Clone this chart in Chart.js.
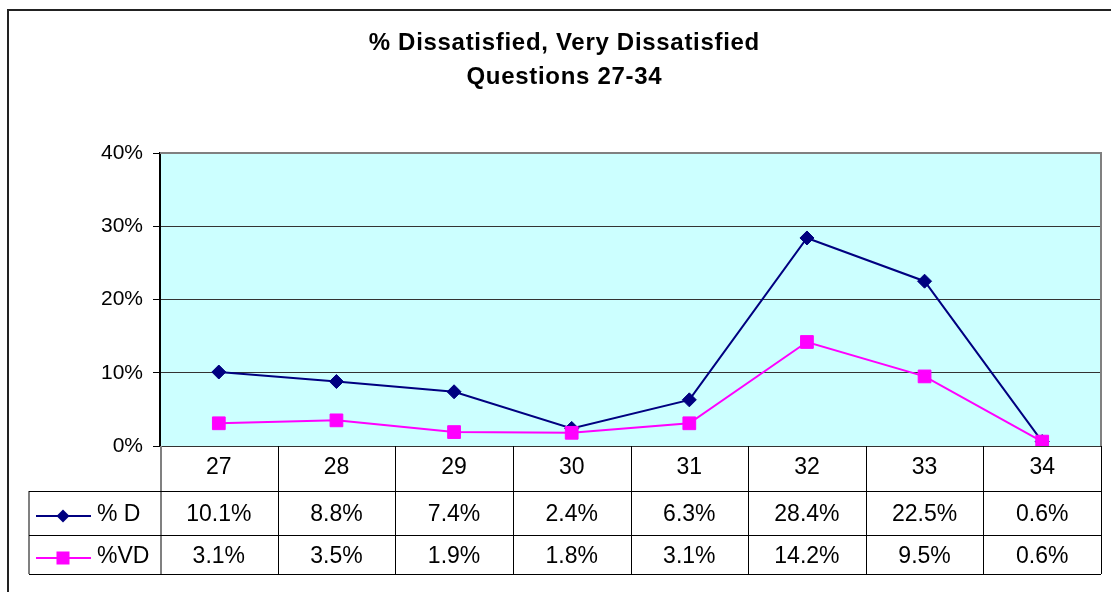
<!DOCTYPE html>
<html>
<head>
<meta charset="utf-8">
<title>% Dissatisfied, Very Dissatisfied</title>
<script src="https://cdn.jsdelivr.net/npm/chart.js@4.4.1/dist/chart.umd.min.js"></script>
<style>
  html, body { margin: 0; padding: 0; background: #fff; overflow: hidden; }
</style>
</head>
<body>
<canvas id="chart" width="1111" height="592"></canvas>
<script>
const titleLines = ['% Dissatisfied, Very Dissatisfied', 'Questions 27-34'];
const questions = ['27', '28', '29', '30', '31', '32', '33', '34'];
const seriesNames = ['% D', '%VD'];
const pctD = [10.1, 8.8, 7.4, 2.4, 6.3, 28.4, 22.5, 0.6];
const pctVD = [3.1, 3.5, 1.9, 1.8, 3.1, 14.2, 9.5, 0.6];
const yTicks = [0, 10, 20, 30, 40];

const FONT = '"Liberation Sans", Arial, sans-serif';
const NAVY = '#000080';
const MAGENTA = '#ff00ff';

Chart.defaults.font.family = FONT;

// small helpers for the legend keys inside the data table
function diamond(ctx, x, y, r, color) {
  ctx.fillStyle = color;
  ctx.beginPath();
  ctx.moveTo(x, y - r); ctx.lineTo(x + r, y); ctx.lineTo(x, y + r); ctx.lineTo(x - r, y);
  ctx.closePath();
  ctx.fill();
}
function square(ctx, x, y, s, color) {
  ctx.fillStyle = color;
  ctx.fillRect(x - s / 2, y - s / 2, s, s);
}
function line(ctx, x1, y1, x2, y2) {
  ctx.beginPath(); ctx.moveTo(x1, y1); ctx.lineTo(x2, y2); ctx.stroke();
}

const excelFrame = {
  id: 'excelFrame',
  beforeDraw(chart) {
    const { ctx, chartArea: a } = chart;
    ctx.save();
    // outer border of the chart object (only top/left are in view)
    ctx.strokeStyle = '#222';
    ctx.lineWidth = 2;
    ctx.beginPath();
    ctx.moveTo(8, chart.height); ctx.lineTo(8, 10); ctx.lineTo(chart.width, 10);
    ctx.stroke();
    // plot background
    ctx.fillStyle = '#ccffff';
    ctx.fillRect(a.left, a.top, a.right - a.left, a.bottom - a.top);
    // title, Excel draws bold titles a little spaced out
    ctx.fillStyle = '#000';
    ctx.font = 'bold 24px ' + FONT;
    ctx.letterSpacing = '0.7px';
    ctx.textAlign = 'left';
    ctx.textBaseline = 'alphabetic';
    titleLines.forEach((t, i) => {
      const w = ctx.measureText(t).width - 0.7;
      ctx.fillText(t, 564 - w / 2, 50 + i * 34);
    });
    ctx.letterSpacing = '0px';
    ctx.restore();
  },
  beforeDatasetsDraw(chart) {
    const { ctx, chartArea: a, scales: { x } } = chart;
    const half = (x.getPixelForValue(1) - x.getPixelForValue(0)) / 2;
    const rows = [a.bottom, a.bottom + 45, a.bottom + 89, a.bottom + 128];
    const legendLeft = 29;
    ctx.save();

    // grey frame on top and right of the plot
    ctx.strokeStyle = '#808080';
    ctx.lineWidth = 2;
    ctx.beginPath();
    ctx.moveTo(a.left, a.top); ctx.lineTo(a.right, a.top); ctx.lineTo(a.right, a.bottom);
    ctx.stroke();

    // data table grid
    line(ctx, legendLeft, rows[1], legendLeft, rows[3]);
    line(ctx, a.left + 1, a.bottom, a.left + 1, rows[3]);
    ctx.strokeStyle = '#000';
    ctx.lineWidth = 1;
    rows.slice(1).forEach(y => line(ctx, legendLeft, Math.round(y) + 0.5, a.right, Math.round(y) + 0.5));
    for (let i = 1; i < questions.length; i++) {
      const xx = Math.round(x.getPixelForValue(i) - half) + 0.5;
      line(ctx, xx, a.bottom, xx, rows[3]);
    }
    line(ctx, Math.round(a.right) + 0.5, a.bottom, Math.round(a.right) + 0.5, rows[3]);

    // table text
    ctx.fillStyle = '#000';
    ctx.font = '23px ' + FONT;
    ctx.textBaseline = 'alphabetic';
    ctx.textAlign = 'center';
    questions.forEach((q, i) => {
      const cx = x.getPixelForValue(i);
      ctx.fillText(q, cx, rows[0] + 28);
      ctx.fillText(pctD[i].toFixed(1) + '%', cx, rows[1] + 30);
      ctx.fillText(pctVD[i].toFixed(1) + '%', cx, rows[2] + 28);
    });

    // legend keys
    ctx.textAlign = 'left';
    ctx.fillText(seriesNames[0], 97, rows[1] + 30);
    ctx.fillText(seriesNames[1], 97, rows[2] + 28);
    ctx.lineWidth = 2;
    ctx.strokeStyle = NAVY;
    line(ctx, 36, rows[1] + 25, 91, rows[1] + 25);
    diamond(ctx, 63, rows[1] + 25, 6.5, NAVY);
    ctx.strokeStyle = MAGENTA;
    line(ctx, 36, rows[2] + 23, 91, rows[2] + 23);
    square(ctx, 63, rows[2] + 23, 13, MAGENTA);

    ctx.restore();
  }
};

new Chart(document.getElementById('chart'), {
  type: 'line',
  data: {
    labels: questions,
    datasets: [
      {
        label: seriesNames[0],
        data: pctD,
        order: 1,
        borderColor: NAVY,
        backgroundColor: NAVY,
        borderWidth: 2,
        tension: 0,
        pointStyle: 'rectRot',
        pointRadius: 7,
        pointBorderWidth: 1
      },
      {
        label: seriesNames[1],
        data: pctVD,
        order: 0,
        borderColor: MAGENTA,
        backgroundColor: MAGENTA,
        borderWidth: 2,
        tension: 0,
        pointStyle: 'rect',
        pointRadius: 9,
        pointBorderWidth: 1
      }
    ]
  },
  options: {
    responsive: false,
    animation: false,
    events: [],
    layout: { padding: { top: 153, right: 8, bottom: 146, left: 0 } },
    plugins: {
      legend: { display: false },
      title: { display: false },
      tooltip: { enabled: false }
    },
    scales: {
      x: { display: false, offset: true },
      y: {
        min: 0,
        max: 40,
        afterBuildTicks: s => { s.ticks = yTicks.map(v => ({ value: v })); },
        afterFit: s => { s.width = 160; },
        ticks: {
          callback: v => v + '%',
          color: '#000',
          font: { family: FONT, size: 21 },
          padding: 10
        },
        grid: {
          color: c => (c.tick && c.tick.value === 40 ? '#808080' : '#333'),
          tickColor: '#000',
          tickLength: 7,
          lineWidth: 1
        },
        border: { color: '#000', width: 2 }
      }
    }
  },
  plugins: [excelFrame]
});
</script>
</body>
</html>
